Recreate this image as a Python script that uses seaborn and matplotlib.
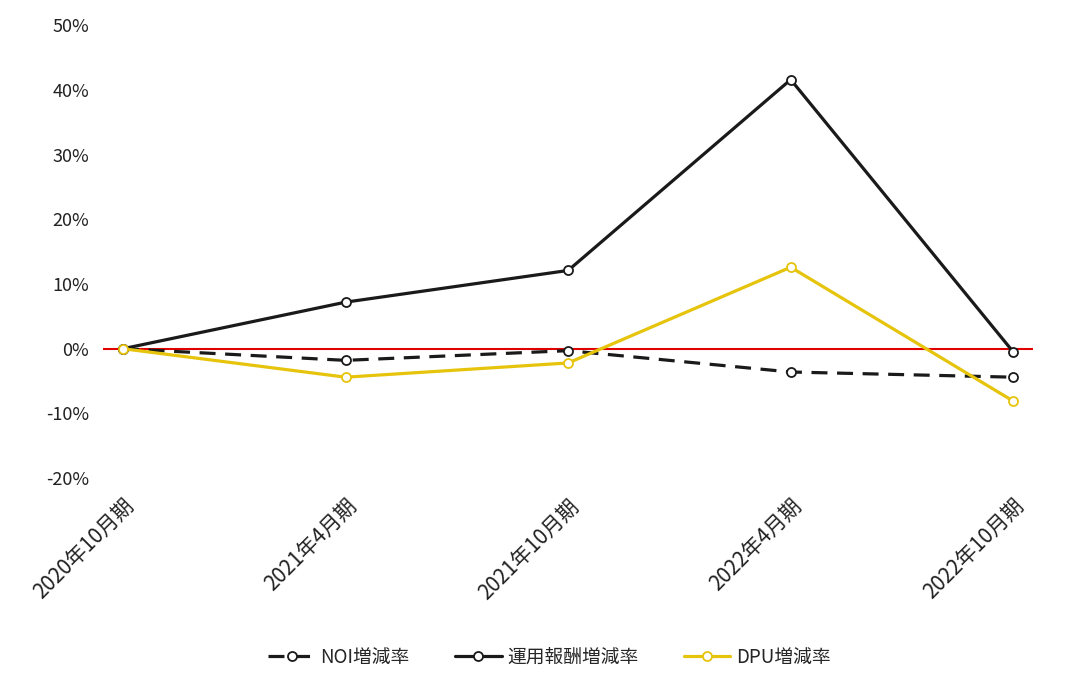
import matplotlib
matplotlib.use("Agg")
import matplotlib.pyplot as plt
import matplotlib.ticker as mticker
import seaborn as sns

# --- DATA ---
periods = ["2020年10月期", "2021年4月期", "2021年10月期", "2022年4月期", "2022年10月期"]
noi_rate = [0.0, -0.018, -0.003, -0.036, -0.044]
fee_rate = [0.0, 0.072, 0.121, 0.416, -0.005]
dpu_rate = [0.0, -0.044, -0.022, 0.126, -0.081]
y_ticks = [-0.2, -0.1, 0.0, 0.1, 0.2, 0.3, 0.4, 0.5]

sns.set_style("white")
plt.rcParams["font.family"] = ["Noto Sans CJK JP", "DejaVu Sans"]
plt.rcParams["axes.unicode_minus"] = False

fig = plt.figure(figsize=(10.73, 6.83), dpi=100)
ax = fig.add_axes([0.096, 0.300, 0.867, 0.663])

marker_kw = dict(marker="o", markersize=6.5, markerfacecolor="white", markeredgewidth=1.3)

sns.lineplot(x=periods, y=noi_rate, ax=ax, color="#1a1a1a", linewidth=2.3,
             markeredgecolor="#1a1a1a", label="NOI増減率", **marker_kw)
ax.lines[-1].set_dashes([5, 3])
sns.lineplot(x=periods, y=fee_rate, ax=ax, color="#1a1a1a", linewidth=2.3,
             markeredgecolor="#1a1a1a", label="運用報酬増減率", **marker_kw)
sns.lineplot(x=periods, y=dpu_rate, ax=ax, color="#e6c40c", linewidth=2.3,
             markeredgecolor="#e6c40c", label="DPU増減率", **marker_kw)

# zero line
ax.axhline(0, color="#e00000", linewidth=1.5, zorder=1)

ax.set_xlim(-0.09, 4.09)
ax.set_ylim(-0.2, 0.5)
ax.set_yticks(y_ticks)
ax.yaxis.set_major_formatter(mticker.PercentFormatter(1.0, decimals=0))
ax.set_xlabel("")
ax.set_ylabel("")
for s in ax.spines.values():
    s.set_visible(False)
ax.tick_params(axis="y", length=0, labelsize=13, colors="#222222", pad=10)
ax.tick_params(axis="x", length=0, labelsize=15, colors="#222222", pad=12)
plt.setp(ax.get_xticklabels(), rotation=45, ha="right", rotation_mode="anchor")

ax.legend(loc="center", bbox_to_anchor=(0.512, 0.038), bbox_transform=fig.transFigure,
          ncol=3, frameon=False, fontsize=13.5, handlelength=2.5, columnspacing=2.4,
          handletextpad=0.3)

plt.savefig("out.png", dpi=100)
